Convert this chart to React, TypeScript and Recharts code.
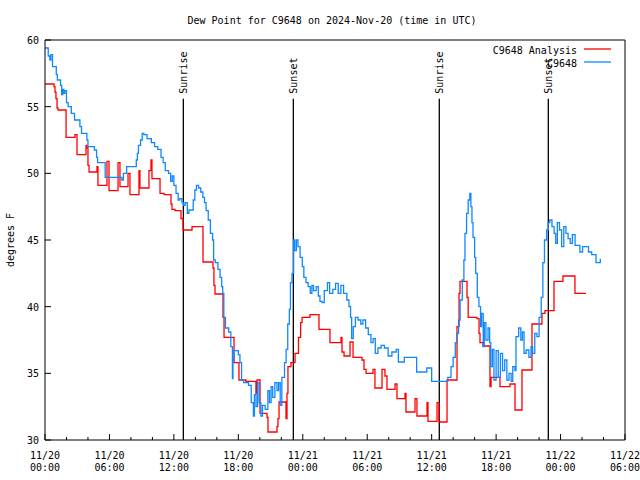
import React from "react";
import { LineChart, Line, XAxis, YAxis, ReferenceLine } from "recharts";

// hours since 2024-11-20 00:00 UTC
const analysisHours = [
  0, 0.84, 0.93, 1.02, 1.12, 1.21, 1.96, 2.79, 2.98, 3.82, 3.91, 4.0, 4.1, 4.84, 4.93, 5.77, 5.96, 6.8, 6.98,
  7.73, 7.91, 8.75, 8.84, 9.68, 9.87, 9.96, 10.71, 11.08, 11.73, 11.82, 12.1, 12.66, 12.85, 13.69, 14.71,
  15.64, 15.73, 15.83, 16.57, 16.67, 17.6, 18.06, 18.71, 19.64, 19.74, 20.02, 20.67, 20.76, 21.6, 21.69,
  21.79, 22.44, 22.53, 22.62, 22.9, 23.28, 23.6, 23.8, 23.93, 24.67, 25.51, 26.53, 27.56, 27.65, 27.84,
  28.4, 28.68, 29.51, 29.7, 29.89, 30.54, 30.72, 31.38, 31.65, 31.84, 32.59, 32.77, 33.52, 33.61, 34.45,
  34.63, 35.57, 35.66, 36.5, 36.68, 37.43, 38.36, 38.55, 38.64, 39.29, 39.4, 40.22, 40.41, 40.5, 40.78,
  41.43, 41.53, 42.36, 43.29, 43.76, 44.41, 45.34, 46.27, 46.55, 47.39, 48.22, 49.34, 50.37,
];
const analysisDewpt = [
  56.7, 56.5, 56.1, 55.6, 54.9, 54.75, 52.7, 52.9, 51.4, 52.1, 51.9, 50.6, 50.1, 50.5, 49.1, 50.9, 48.7, 50.8, 49.0,
  50.0, 48.4, 50.2, 48.9, 50.2, 51.0, 49.6, 48.5, 48.4, 47.7, 47.3, 47.2, 46.6, 45.75, 46.0, 43.35,
  42.9, 41.6, 40.95, 39.2, 37.7, 35.8, 34.5, 34.4, 33.5, 34.5, 32.0, 31.7, 30.6, 31.0, 31.6,
  32.85, 31.6, 33.5, 35.5, 35.8, 36.5, 37.7, 38.8, 39.2, 39.4, 38.3, 37.3, 37.7, 36.6, 36.3,
  37.35, 36.2, 36.0, 35.3, 35.0, 35.3, 33.9, 35.3, 34.8, 33.8, 34.2, 33.1, 33.5, 32.1, 33.1,
  31.8, 32.8, 31.4, 32.8, 31.35, 34.5, 38.5, 41.0, 41.9, 40.7, 39.2, 39.1, 38.0, 37.3, 37.05,
  34.0, 34.7, 34.0, 34.2, 32.25, 35.25, 38.7, 39.5, 39.7, 41.9, 42.3, 41.0, 41.0,
];

const obsHours = [
  0, 0.3, 0.45, 0.55, 0.7, 1.05, 1.15, 1.45, 1.55, 1.65, 1.75, 1.85, 2.0, 2.15, 2.45, 2.75, 3.25, 3.4, 3.9, 4.0,
  4.6, 4.8, 4.9, 5.6, 7.15, 7.3, 7.6, 8.5, 8.6, 8.7, 8.9, 9.05, 9.2, 9.5, 9.9, 10.2, 10.5, 10.8, 11.0, 11.2,
  11.5, 11.7, 11.85, 12.0, 12.2, 12.4, 12.55, 12.75, 12.9, 13.05, 13.25, 13.4, 13.8, 13.95, 14.1, 14.3, 14.5,
  14.7, 14.85, 15.0, 15.2, 15.4, 15.6, 15.7, 15.85, 16.1, 16.3, 16.45, 16.55, 16.65, 16.8, 17.1, 17.3, 17.45,
  17.5, 17.6, 18.0, 18.15, 18.3, 18.5, 18.95, 19.2, 19.4, 19.5, 19.65, 19.8, 19.95, 20.1, 20.25, 20.5, 20.75,
  20.9, 21.05, 21.2, 21.4, 21.6, 21.75, 21.9, 22.05, 22.3, 22.45, 22.6, 22.75, 22.85, 23.0, 23.15, 23.25, 23.4,
  23.55, 23.75, 23.95, 24.1, 24.3, 24.5, 24.7, 24.85, 25.0, 25.25, 25.45, 25.6, 25.8, 26.0, 26.3, 26.5, 26.8,
  27.05, 27.3, 27.55, 27.8, 28.1, 28.3, 28.45, 28.55, 28.7, 28.9, 29.15, 29.4, 29.6, 29.85, 30.1, 30.35, 30.55,
  30.75, 31.0, 31.3, 31.6, 31.95, 32.3, 32.7, 32.9, 33.45, 34.6, 35.55, 36.0, 37.5, 37.8, 38.0, 38.2, 38.35,
  38.5, 38.65, 38.85, 39.0, 39.1, 39.25, 39.4, 39.55, 39.65, 39.75, 39.85, 40.0, 40.1, 40.25, 40.4, 40.55,
  40.65, 40.8, 40.9, 41.05, 41.25, 41.4, 41.5, 41.65, 41.8, 42.0, 42.2, 42.4, 42.6, 42.8, 43.0, 43.2, 43.4,
  43.55, 43.75, 43.85, 44.1, 44.3, 44.45, 44.6, 44.8, 45.05, 45.25, 45.4, 45.6, 45.8, 46.0, 46.2, 46.35, 46.5,
  46.7, 46.85, 47.0, 47.2, 47.4, 47.55, 47.7, 47.9, 48.1, 48.3, 48.5, 48.7, 48.9, 49.1, 49.35, 49.8, 50.05,
  50.6, 50.9, 51.3, 51.7,
];
const obsDewpt = [
  59.4, 58.8, 58.5, 58.9, 58.0, 57.4, 57.0, 56.6, 55.9, 56.3, 56.0, 56.2, 55.3, 55.0, 54.5, 54.0, 53.5, 53.0, 52.5, 52.0,
  51.75, 51.2, 50.8, 49.7, 49.5, 50.0, 50.5, 51.0, 51.5, 52.1, 52.5, 53.0, 52.9, 52.6, 52.3, 52.0, 51.8, 51.2, 50.8, 50.2,
  50.0, 49.4, 49.8, 49.1, 48.5, 48.0, 48.1, 47.8, 47.6, 47.8, 47.0, 47.25, 48.0, 48.75, 49.1, 48.9, 48.6,
  48.2, 47.8, 47.2, 46.5, 45.5, 45.0, 43.5, 43.3, 42.8, 42.2, 41.5, 41.0, 39.2, 38.4, 38.1, 37.0, 34.6,
  36.0, 36.7, 36.4, 35.8, 34.5, 34.3, 34.1, 32.8, 31.8, 33.4, 32.5, 34.3, 32.8, 31.8, 32.6, 32.3, 33.7,
  32.8, 34.0, 33.2, 34.3, 33.7, 34.3, 32.6, 34.7, 35.8, 36.8, 38.7, 39.8, 41.8, 42.5, 45.0, 44.2, 45.0,
  44.5, 43.7, 43.0, 42.2, 41.8, 41.5, 41.0, 41.6, 41.2, 41.5, 40.8, 40.4, 40.3, 41.2, 41.8, 41.0, 41.3,
  41.75, 41.0, 41.6, 41.0, 40.5, 40.0, 39.2, 37.6, 38.5, 39.2, 39.0, 38.7, 39.0, 38.4, 37.9, 37.3, 37.6,
  36.5, 36.9, 37.1, 36.9, 36.3, 36.6, 36.8, 35.85, 36.2, 35.1, 35.4, 34.4, 34.7, 35.5, 36.2, 37.3, 38.0,
  39.0, 40.5, 42.0, 43.5, 45.5, 47.0, 48.0, 48.5, 47.5, 46.3, 45.2, 43.7, 42.5, 40.7, 40.0, 38.5,
  39.5, 37.0, 38.8, 37.5, 38.4, 37.3, 35.5, 36.8, 34.5, 36.7, 34.7, 36.5, 35.2, 36.0, 34.5, 35.0, 34.4,
  35.5, 35.2, 37.75, 38.4, 37.5, 38.1, 36.5, 36.75, 36.2, 37.0, 36.5, 38.0, 37.75, 39.2, 40.7, 43.3, 45.0,
  45.75, 46.3, 46.5, 46.0, 45.5, 44.75, 46.3, 45.75, 44.5, 46.0, 45.5, 45.1, 44.75, 45.4, 44.6, 44.1, 44.5,
  44.1, 43.9, 43.3, 43.6,
];

const xTicks = [0, 2, 4, 6, 8, 10, 12, 14, 16, 18, 20, 22, 24, 26, 28, 30, 32, 34, 36, 38, 40, 42, 44, 46, 48, 50, 52, 54];
const yTicks = [30, 35, 40, 45, 50, 55, 60];
const sunHours = [12.88, 23.12, 36.71, 46.86];
const sunLabels = ["Sunrise", "Sunset", "Sunrise", "Sunset"];

const FONT = "DejaVu Sans Mono";
const RED = "#ff0000";
const BLUE = "#0f88ff";

const analysisData = analysisHours.map((h, i) => ({ h, v: analysisDewpt[i] }));
const obsData = obsHours.map((h, i) => ({ h, v: obsDewpt[i] }));

const tickLen = (h: number) => (h % 6 === 0 ? 6 : 3);

const BottomTick = ({ x, y, payload }: any) => {
  const h = payload.value;
  const day = 20 + Math.floor(h / 24);
  const hr = String(h % 24).padStart(2, "0");
  return (
    <g>
      <line x1={x} x2={x} y1={y} y2={y - tickLen(h)} stroke="#000" />
      {h % 6 === 0 && (
        <text x={x} y={y + 19} textAnchor="middle" fontFamily={FONT} fontSize={10} fill="#000">
          <tspan x={x}>11/{day}</tspan>
          <tspan x={x} dy={12}>{hr}:00</tspan>
        </text>
      )}
    </g>
  );
};

const TopTick = ({ x, y, payload }: any) => (
  <line x1={x} x2={x} y1={y} y2={y + tickLen(payload.value)} stroke="#000" />
);

const LeftTick = ({ x, y, payload }: any) => (
  <g>
    <line x1={x} x2={x + 6} y1={y} y2={y} stroke="#000" />
    <text x={x - 6} y={y + 4} textAnchor="end" fontFamily={FONT} fontSize={10} fill="#000">
      {payload.value}
    </text>
  </g>
);

const RightTick = ({ x, y }: any) => <line x1={x} x2={x - 6} y1={y} y2={y} stroke="#000" />;

const SunLabel = ({ viewBox, value }: any) => {
  const x = viewBox.x + 4;
  const y = viewBox.y - 5;
  return (
    <text x={x} y={y} transform={`rotate(-90 ${x} ${y})`} fontFamily={FONT} fontSize={10} fill="#000">
      {value}
    </text>
  );
};

export default function App() {
  return (
    <div style={{ position: "absolute", left: 0, top: 0, background: "#fff" }}>
      <LineChart width={640} height={480} margin={{ top: 35, right: 10, bottom: 10, left: 10 }}>
        <XAxis
          dataKey="h"
          type="number"
          domain={[0, 54]}
          ticks={xTicks}
          interval={0}
          allowDataOverflow
          height={30}
          tickSize={0}
          tickMargin={0}
          tickLine={false}
          axisLine={{ stroke: "#000" }}
          tick={BottomTick}
        />
        <XAxis
          xAxisId="top"
          orientation="top"
          dataKey="h"
          type="number"
          domain={[0, 54]}
          ticks={xTicks}
          interval={0}
          height={5}
          tickSize={0}
          tickMargin={0}
          tickLine={false}
          axisLine={{ stroke: "#000" }}
          tick={TopTick}
        />
        <YAxis
          type="number"
          domain={[30, 60]}
          ticks={yTicks}
          interval={0}
          allowDataOverflow
          width={35}
          tickSize={0}
          tickMargin={0}
          tickLine={false}
          axisLine={{ stroke: "#000" }}
          tick={LeftTick}
        />
        <YAxis
          yAxisId="right"
          orientation="right"
          type="number"
          domain={[30, 60]}
          ticks={yTicks}
          interval={0}
          width={5}
          tickSize={0}
          tickMargin={0}
          tickLine={false}
          axisLine={{ stroke: "#000" }}
          tick={RightTick}
        />
        {sunHours.map((h, i) => (
          <ReferenceLine
            key={i}
            segment={[{ x: h, y: 30 }, { x: h, y: 55.6 }]}
            stroke="#000"
            strokeWidth={1.3}
            label={{ value: sunLabels[i], content: SunLabel }}
          />
        ))}
        <Line
          data={analysisData}
          dataKey="v"
          type="stepAfter"
          stroke={RED}
          strokeWidth={1.3}
          dot={false}
          isAnimationActive={false}
        />
        <Line
          data={obsData}
          dataKey="v"
          type="stepAfter"
          stroke={BLUE}
          strokeWidth={1.3}
          dot={false}
          isAnimationActive={false}
        />
        <text x={332} y={24} textAnchor="middle" fontFamily={FONT} fontSize={10} fill="#000">
          Dew Point for C9648 on 2024-Nov-20 (time in UTC)
        </text>
        <text
          x={14}
          y={240}
          textAnchor="middle"
          transform="rotate(-90 14 240)"
          fontFamily={FONT}
          fontSize={10}
          fill="#000"
        >
          degrees F
        </text>
        <text x={577} y={54} textAnchor="end" fontFamily={FONT} fontSize={10} fill="#000">
          C9648 Analysis
        </text>
        <line x1={584} x2={611} y1={49} y2={49} stroke={RED} strokeWidth={1.3} />
        <text x={577} y={67} textAnchor="end" fontFamily={FONT} fontSize={10} fill="#000">
          C9648
        </text>
        <line x1={584} x2={611} y1={62} y2={62} stroke={BLUE} strokeWidth={1.3} />
      </LineChart>
    </div>
  );
}
